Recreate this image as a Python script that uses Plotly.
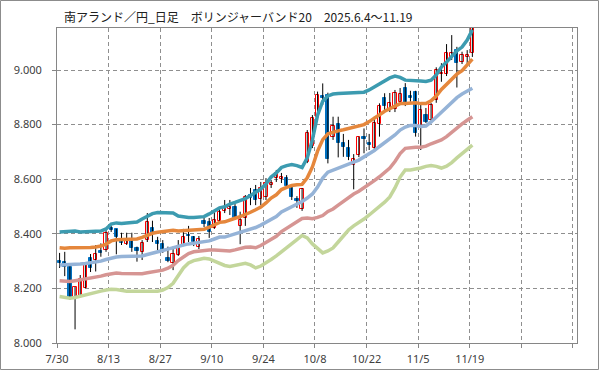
import plotly.graph_objects as go

title_text = "南アランド／円_日足　ボリンジャーバンド20　2025.6.4〜11.19"
x_tick_labels = ["7/30", "8/13", "8/27", "9/10", "9/24", "10/8", "10/22", "11/5", "11/19", "", ""]
y_tick_values = [8.0, 8.2, 8.4, 8.6, 8.8, 9.0]

open_ = [8.300, 8.298, 8.277, 8.167, 8.170, 8.203, 8.310, 8.304, 8.337, 8.341,
         8.420, 8.417, 8.374, 8.363, 8.375, 8.347, 8.332, 8.377, 8.422, 8.372,
         8.363, 8.312, 8.292, 8.324, 8.359, 8.397, 8.388, 8.351, 8.447, 8.443,
         8.421, 8.447, 8.482, 8.491, 8.498, 8.430, 8.458, 8.542, 8.560, 8.527,
         8.536, 8.579, 8.604, 8.602, 8.603, 8.567, 8.526, 8.490, 8.664, 8.722,
         8.829, 8.905, 8.908, 8.753, 8.802, 8.732, 8.713, 8.651, 8.689, 8.753,
         8.734, 8.713, 8.801, 8.896, 8.856, 8.856, 8.884, 8.933, 8.905, 8.921,
         8.786, 8.835, 8.817, 8.890, 8.984, 8.984, 9.043, 9.073, 9.030, 9.049,
         9.061]
high = [8.330, 8.334, 8.282, 8.206, 8.249, 8.290, 8.326, 8.359, 8.365, 8.420,
        8.429, 8.418, 8.404, 8.404, 8.404, 8.353, 8.377, 8.476, 8.448, 8.389,
        8.377, 8.353, 8.353, 8.377, 8.418, 8.429, 8.392, 8.392, 8.465, 8.458,
        8.487, 8.498, 8.524, 8.524, 8.509, 8.481, 8.542, 8.568, 8.579, 8.590,
        8.604, 8.597, 8.634, 8.623, 8.615, 8.579, 8.538, 8.568, 8.780, 8.835,
        8.921, 8.951, 8.917, 8.829, 8.829, 8.766, 8.744, 8.692, 8.756, 8.786,
        8.766, 8.829, 8.878, 8.915, 8.916, 8.927, 8.934, 8.952, 8.924, 8.924,
        8.872, 8.861, 8.879, 9.010, 9.025, 9.095, 9.128, 9.085, 9.067, 9.073,
        9.170]
low = [8.275, 8.245, 8.158, 8.050, 8.167, 8.201, 8.260, 8.262, 8.316, 8.334,
       8.407, 8.325, 8.359, 8.359, 8.334, 8.298, 8.304, 8.370, 8.370, 8.334,
       8.330, 8.296, 8.267, 8.319, 8.355, 8.370, 8.355, 8.344, 8.425, 8.385,
       8.418, 8.443, 8.476, 8.469, 8.454, 8.362, 8.429, 8.505, 8.505, 8.505,
       8.524, 8.568, 8.590, 8.586, 8.568, 8.524, 8.495, 8.484, 8.659, 8.714,
       8.824, 8.872, 8.658, 8.744, 8.680, 8.682, 8.670, 8.563, 8.681, 8.695,
       8.707, 8.707, 8.756, 8.853, 8.846, 8.846, 8.875, 8.868, 8.884, 8.756,
       8.707, 8.806, 8.811, 8.880, 8.957, 8.978, 9.037, 8.936, 9.022, 9.018,
       9.048]
close = [8.294, 8.277, 8.164, 8.204, 8.236, 8.286, 8.275, 8.325, 8.331, 8.402,
         8.414, 8.390, 8.365, 8.377, 8.347, 8.337, 8.365, 8.443, 8.404, 8.362,
         8.339, 8.300, 8.326, 8.355, 8.388, 8.392, 8.370, 8.381, 8.436, 8.408,
         8.451, 8.480, 8.500, 8.498, 8.458, 8.451, 8.535, 8.531, 8.524, 8.568,
         8.586, 8.586, 8.622, 8.607, 8.575, 8.536, 8.520, 8.563, 8.770, 8.825,
         8.908, 8.896, 8.673, 8.795, 8.732, 8.717, 8.680, 8.673, 8.753, 8.746,
         8.725, 8.807, 8.868, 8.868, 8.878, 8.915, 8.912, 8.878, 8.899, 8.768,
         8.853, 8.811, 8.872, 9.000, 8.990, 9.061, 9.061, 9.025, 9.055, 9.055,
         9.160]

upper2 = [8.407, 8.408, 8.412, 8.410, 8.407, 8.407, 8.407, 8.407, 8.410, 8.418,
          8.436, 8.440, 8.438, 8.440, 8.441, 8.443, 8.454, 8.465, 8.474, 8.478,
          8.478, 8.477, 8.476, 8.465, 8.462, 8.460, 8.460, 8.460, 8.463, 8.473,
          8.484, 8.495, 8.499, 8.509, 8.515, 8.522, 8.529, 8.540, 8.553, 8.564,
          8.582, 8.608, 8.623, 8.643, 8.650, 8.654, 8.650, 8.643, 8.678, 8.744,
          8.835, 8.886, 8.905, 8.912, 8.914, 8.915, 8.916, 8.916, 8.917, 8.919,
          8.927, 8.938, 8.951, 8.963, 8.971, 8.978, 8.973, 8.963, 8.963, 8.962,
          8.960, 8.958, 8.963, 8.982, 9.011, 9.029, 9.048, 9.070, 9.084, 9.110,
          9.147]
upper1 = [8.349, 8.347, 8.349, 8.349, 8.348, 8.349, 8.350, 8.352, 8.355, 8.362,
          8.374, 8.378, 8.378, 8.379, 8.380, 8.381, 8.387, 8.395, 8.402, 8.406,
          8.409, 8.411, 8.413, 8.410, 8.411, 8.412, 8.413, 8.414, 8.417, 8.424,
          8.433, 8.442, 8.444, 8.452, 8.457, 8.463, 8.470, 8.479, 8.488, 8.498,
          8.513, 8.531, 8.543, 8.562, 8.570, 8.577, 8.580, 8.581, 8.605, 8.645,
          8.703, 8.745, 8.766, 8.773, 8.777, 8.781, 8.786, 8.790, 8.794, 8.800,
          8.811, 8.822, 8.836, 8.849, 8.859, 8.870, 8.877, 8.877, 8.880, 8.880,
          8.877, 8.877, 8.887, 8.905, 8.929, 8.947, 8.967, 8.985, 8.998, 9.017,
          9.040]
middle = [8.286, 8.286, 8.286, 8.288, 8.289, 8.291, 8.293, 8.297, 8.300, 8.306,
          8.311, 8.315, 8.317, 8.318, 8.319, 8.319, 8.319, 8.324, 8.330, 8.334,
          8.339, 8.344, 8.350, 8.355, 8.359, 8.363, 8.365, 8.368, 8.370, 8.374,
          8.381, 8.388, 8.388, 8.394, 8.398, 8.403, 8.410, 8.418, 8.423, 8.432,
          8.443, 8.454, 8.463, 8.480, 8.489, 8.500, 8.509, 8.518, 8.531, 8.546,
          8.571, 8.604, 8.626, 8.634, 8.639, 8.647, 8.656, 8.663, 8.670, 8.681,
          8.694, 8.705, 8.720, 8.734, 8.747, 8.762, 8.780, 8.791, 8.797, 8.797,
          8.793, 8.795, 8.810, 8.828, 8.846, 8.864, 8.885, 8.899, 8.912, 8.923,
          8.933]
lower1 = [8.228, 8.227, 8.225, 8.228, 8.231, 8.235, 8.238, 8.243, 8.245, 8.250,
          8.254, 8.256, 8.255, 8.254, 8.255, 8.255, 8.254, 8.257, 8.260, 8.262,
          8.267, 8.274, 8.285, 8.302, 8.317, 8.328, 8.334, 8.337, 8.340, 8.341,
          8.341, 8.340, 8.336, 8.337, 8.341, 8.346, 8.351, 8.352, 8.349, 8.357,
          8.368, 8.380, 8.391, 8.408, 8.420, 8.432, 8.444, 8.456, 8.458, 8.455,
          8.460, 8.467, 8.482, 8.491, 8.505, 8.520, 8.535, 8.546, 8.556, 8.568,
          8.582, 8.595, 8.609, 8.625, 8.641, 8.665, 8.694, 8.713, 8.716, 8.717,
          8.717, 8.721, 8.730, 8.738, 8.744, 8.756, 8.773, 8.789, 8.803, 8.816,
          8.829]
lower2 = [8.170, 8.167, 8.164, 8.167, 8.172, 8.178, 8.183, 8.188, 8.190, 8.194,
          8.197, 8.196, 8.192, 8.190, 8.190, 8.190, 8.189, 8.189, 8.189, 8.190,
          8.194, 8.203, 8.219, 8.249, 8.275, 8.293, 8.302, 8.306, 8.310, 8.308,
          8.300, 8.291, 8.284, 8.280, 8.284, 8.289, 8.292, 8.286, 8.275, 8.282,
          8.293, 8.306, 8.319, 8.335, 8.350, 8.363, 8.379, 8.394, 8.385, 8.363,
          8.348, 8.330, 8.337, 8.348, 8.370, 8.392, 8.414, 8.429, 8.441, 8.454,
          8.469, 8.484, 8.498, 8.516, 8.535, 8.568, 8.608, 8.634, 8.634, 8.636,
          8.641, 8.647, 8.650, 8.647, 8.641, 8.648, 8.661, 8.678, 8.694, 8.709,
          8.725]

n = len(close)
xs = [i + 0.5 for i in range(n)]

fig = go.Figure()

# wicks
wx, wy = [], []
for i in range(n):
    wx += [xs[i], xs[i], None]
    wy += [low[i], high[i], None]
fig.add_trace(go.Scatter(x=wx, y=wy, mode="lines", line=dict(color="black", width=1),
                         hoverinfo="skip", showlegend=False))

# bodies
RED = "#FF0000"
BLUE = "#0070C0"
base = [min(o, c) for o, c in zip(open_, close)]
height = [max(abs(c - o), 0.0015) for o, c in zip(open_, close)]
fill = ["white" if c >= o else BLUE for o, c in zip(open_, close)]
edge = [RED if c >= o else BLUE for o, c in zip(open_, close)]
fig.add_trace(go.Bar(x=xs, y=height, base=base, width=0.62,
                     marker=dict(color=fill, line=dict(color=edge, width=1)),
                     showlegend=False, hoverinfo="skip"))

bands = [
    (lower2, "#C3D69B"),
    (lower1, "#D69593"),
    (middle, "#95B3D7"),
    (upper1, "#E5873C"),
    (upper2, "#3C9BB0"),
]
for vals, col in bands:
    fig.add_trace(go.Scatter(x=xs, y=vals, mode="lines",
                             line=dict(color=col, width=3.5),
                             showlegend=False, hoverinfo="skip"))

W, H = 599, 370
ML, MR, MT, MB = 57, 22, 28, 27
PW, PH = W - ML - MR, H - MT - MB

axis_common = dict(
    showline=True, linecolor="#868686", linewidth=1, mirror=True,
    showgrid=True, gridcolor="#8f8f8f", gridwidth=1, griddash="4px,3px",
    zeroline=False, ticks="outside", tickcolor="#868686", ticklen=4,
    automargin=False,
    tickfont=dict(family="Noto Sans", size=11, color="#404040"),
)

fig.update_layout(
    width=W, height=H,
    margin=dict(l=ML, r=MR, t=MT, b=MB, pad=0, autoexpand=False),
    paper_bgcolor="white", plot_bgcolor="white",
    bargap=0, barmode="overlay",
    xaxis=dict(range=[0, 100.78], tickmode="array",
               tickvals=[10 * k for k in range(len(x_tick_labels))],
               ticktext=x_tick_labels, ticklabelstandoff=2, **axis_common),
    yaxis=dict(range=[8.0, 9.154], tickmode="array", tickvals=y_tick_values,
               ticktext=[f"{v:.3f}" for v in y_tick_values],
               ticklabelstandoff=8, **axis_common),
    annotations=[dict(
        text=title_text, xref="paper", yref="paper",
        x=(62 - ML) / PW, y=1 + (MT - 17) / PH, xanchor="left", yanchor="middle",
        showarrow=False,
        font=dict(family="Noto Sans CJK JP", size=12, color="#202020"),
    )],
    shapes=[dict(
        type="rect", xref="paper", yref="paper",
        x0=(-ML + 0.5) / PW, x1=(PW + MR - 0.5) / PW,
        y0=(-MB + 0.5) / PH, y1=(PH + MT - 0.5) / PH,
        line=dict(color="#8c8c8c", width=1), fillcolor="rgba(0,0,0,0)", layer="below",
    )],
)

fig.write_html("out.html", config={"displayModeBar": False},
               post_script="document.body.style.margin='0px';")
